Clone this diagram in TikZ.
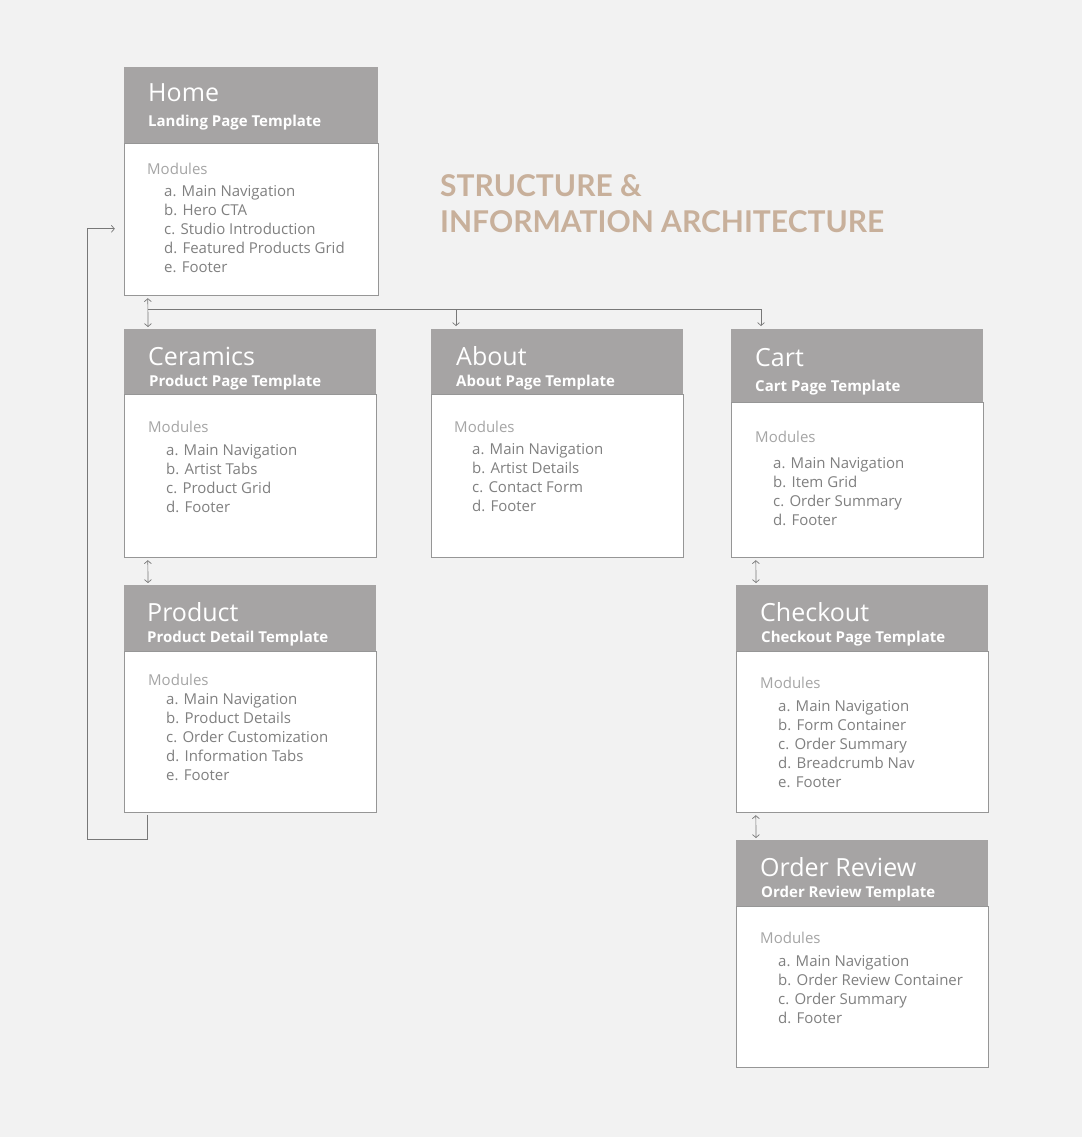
\documentclass[tikz,border=0pt]{standalone}
\usepackage{fontspec}
\setmainfont{Open Sans}
\newfontfamily\headfont{Lato}
\usetikzlibrary{arrows.meta,positioning}

\definecolor{bggray}{RGB}{242,242,242}
\definecolor{headgray}{RGB}{166,164,164}
\definecolor{boxline}{RGB}{150,150,150}
\definecolor{linegray}{RGB}{120,120,120}
\definecolor{modgray}{RGB}{165,165,165}
\definecolor{itemgray}{RGB}{128,128,128}
\definecolor{tan}{RGB}{200,176,155}

\begin{document}
\begin{tikzpicture}[x=1pt,y=-1pt,
  >={Straight Barb[length=3pt,width=7pt]},
  head/.style={fill=headgray, anchor=north west, minimum width=252pt, inner sep=0pt},
  body/.style={draw=boxline, fill=white, minimum width=252pt, inner sep=0pt, line width=0.8pt},
  ttl/.style={anchor=base west, inner sep=0pt, text=white, font=\fontsize{25}{28}\selectfont},
  sub/.style={anchor=base west, inner sep=0pt, text=white, font=\bfseries\fontsize{15}{17}\selectfont},
  mods/.style={anchor=base west, inner sep=0pt, text=modgray, font=\fontsize{15}{19}\selectfont},
  item/.style={anchor=base west, inner sep=0pt, text=itemgray, font=\fontsize{15}{19}\selectfont},
  link/.style={draw=linegray, line width=0.7pt},
  dbl/.style={link, <->, shorten <=2pt, shorten >=2pt}]

% background
\fill[bggray] (0,0) rectangle (1082,1137);
\useasboundingbox (0,0) rectangle (1082,1137);

% heading
\node[anchor=base west, inner sep=0pt, text=tan, font=\headfont\bfseries\fontsize{30}{34}\selectfont] (head1) at (440,196) {STRUCTURE \&};
\node[anchor=base west, inner sep=0pt, text=tan, font=\headfont\bfseries\fontsize{30}{34}\selectfont] (head2) at (440,232) {INFORMATION ARCHITECTURE};

% Home
\node[head, minimum width=254pt, minimum height=76pt] (homehead) at (124,67) {};
\node[body, minimum width=254pt, minimum height=152pt, below=0pt of homehead] (homebody) {};
\node[ttl] (hometitle) at (148,102) {Home};
\node[sub] (homesub) at (148,127) {Landing Page Template};
\node[mods] (homemods) at (147,174) {Modules};
\foreach \t [count=\i] in {a. Main Navigation, b. Hero CTA, c. Studio Introduction, d. Featured Products Grid, e. Footer}
  \node[item] (home-\i) at (164,177+19*\i) {\t};

% Ceramics
\node[head, minimum height=65pt] (cerhead) at (124,329) {};
\node[body, minimum height=163pt, below=0pt of cerhead] (cerbody) {};
\node[ttl] (certitle) at (148,365) {Ceramics};
\node[sub] (cersub) at (149,386) {Product Page Template};
\node[mods] (cermods) at (148,432) {Modules};
\foreach \t [count=\i] in {a. Main Navigation, b. Artist Tabs, c. Product Grid, d. Footer}
  \node[item] (cer-\i) at (166,436+19*\i) {\t};

% About
\node[head, minimum height=65pt] (abouthead) at (431,329) {};
\node[body, minimum height=163pt, below=0pt of abouthead] (aboutbody) {};
\node[ttl] (abouttitle) at (456,365) {About};
\node[sub] (aboutsub) at (456,386) {About Page Template};
\node[mods] (aboutmods) at (454,432) {Modules};
\foreach \t [count=\i] in {a. Main Navigation, b. Artist Details, c. Contact Form, d. Footer}
  \node[item] (about-\i) at (472,435+19*\i) {\t};

% Cart
\node[head, minimum height=73pt] (carthead) at (731,329) {};
\node[body, minimum height=155pt, below=0pt of carthead] (cartbody) {};
\node[ttl] (carttitle) at (755,366) {Cart};
\node[sub] (cartsub) at (755,391) {Cart Page Template};
\node[mods] (cartmods) at (755,442) {Modules};
\foreach \t [count=\i] in {a. Main Navigation, b. Item Grid, c. Order Summary, d. Footer}
  \node[item] (cart-\i) at (773,449+19*\i) {\t};

% Product
\node[head, minimum height=66pt] (prodhead) at (124,585) {};
\node[body, minimum height=161pt, below=0pt of prodhead] (prodbody) {};
\node[ttl] (prodtitle) at (147,621) {Product};
\node[sub] (prodsub) at (147,642) {Product Detail Template};
\node[mods] (prodmods) at (148,685) {Modules};
\foreach \t [count=\i] in {a. Main Navigation, b. Product Details, c. Order Customization, d. Information Tabs, e. Footer}
  \node[item] (prod-\i) at (166,685+19*\i) {\t};

% Checkout
\node[head, minimum height=66pt] (checkhead) at (736,585) {};
\node[body, minimum height=161pt, below=0pt of checkhead] (checkbody) {};
\node[ttl] (checktitle) at (760,621) {Checkout};
\node[sub] (checksub) at (761,642) {Checkout Page Template};
\node[mods] (checkmods) at (760,688) {Modules};
\foreach \t [count=\i] in {a. Main Navigation, b. Form Container, c. Order Summary, d. Breadcrumb Nav, e. Footer}
  \node[item] (check-\i) at (778,692+19*\i) {\t};

% Order Review
\node[head, minimum height=66pt] (revhead) at (736,840) {};
\node[body, minimum height=161pt, below=0pt of revhead] (revbody) {};
\node[ttl] (revtitle) at (760,876) {Order Review};
\node[sub] (revsub) at (761,897) {Order Review Template};
\node[mods] (revmods) at (760,943) {Modules};
\foreach \t [count=\i] in {a. Main Navigation, b. Order Review Container, c. Order Summary, d. Footer}
  \node[item] (rev-\i) at (778,947+19*\i) {\t};

% connectors
\coordinate (split) at (148,309);
\coordinate (loop) at (87,839);
\draw[dbl] ([xshift=24pt]homebody.south west) -- ([xshift=24pt]cerhead.north west);
\draw[link,->,shorten >=3pt] (split) -| ([xshift=25pt]abouthead.north west);
\draw[link,->,shorten >=3pt] (split) -| ([xshift=30pt]carthead.north west);
\draw[dbl] ([xshift=24pt]cerbody.south west) -- ([xshift=24pt]prodhead.north west);
\draw[dbl] ([xshift=25pt]cartbody.south west) -- ([xshift=20pt]checkhead.north west);
\draw[dbl] ([xshift=20pt]checkbody.south west) -- ([xshift=20pt]revhead.north west);
\draw[link,->,shorten <=2pt] ([xshift=24pt]prodbody.south west) |- (loop) |- ([xshift=-9pt,yshift=-9pt]homebody.west);
\end{tikzpicture}
\end{document}
